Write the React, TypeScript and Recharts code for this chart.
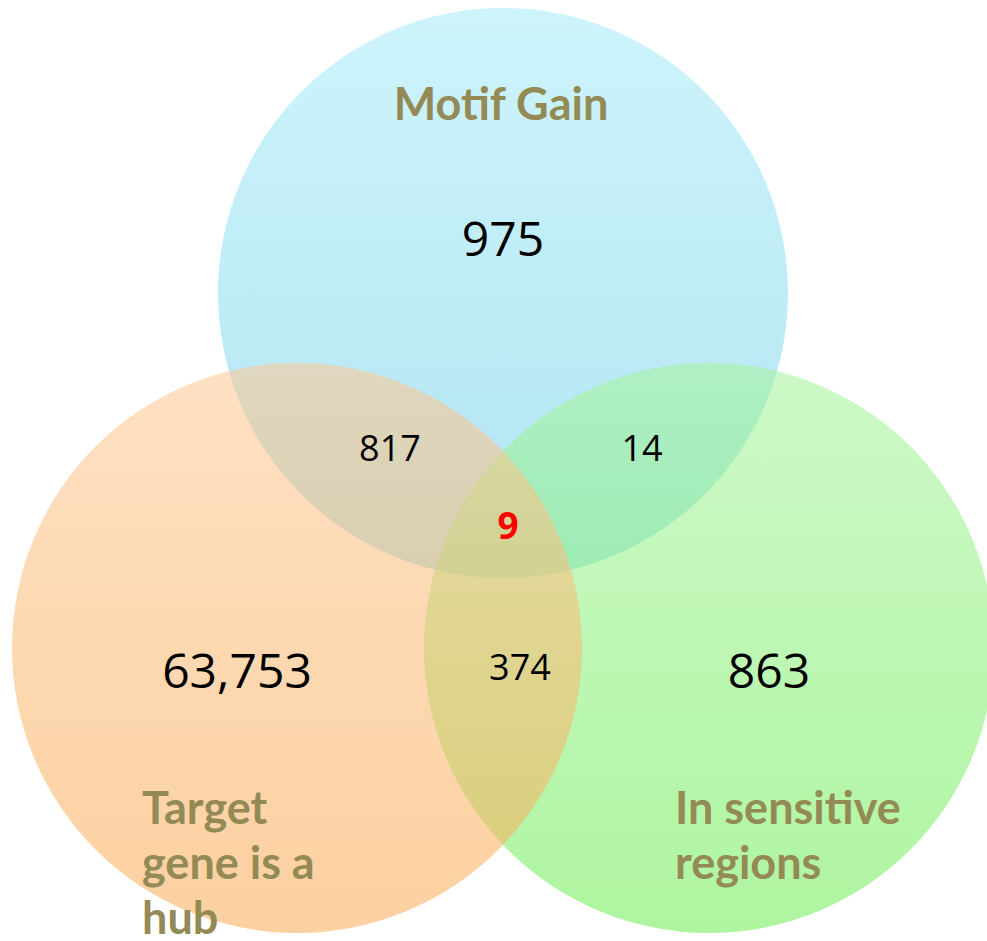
import { ComposedChart, XAxis, YAxis, ReferenceDot, Scatter } from "recharts";

// sets (order = drawing order: blue under, green, orange on top)
const setNames = ["Motif Gain", "In sensitive regions", "Target gene is a hub"];
const setCenterX = [503, 709, 297];
const setCenterY = [293, 648, 648];
const setRadius = 285;

// region counts
const regionNames = ["Motif only", "Hub only", "Sensitive only", "Motif & Hub", "Motif & Sensitive", "Hub & Sensitive", "All three"];
const regionCounts = ["975", "63,753", "863", "817", "14", "374", "9"];
const regionX = [503, 237, 769, 390, 642, 520, 508];
const regionY = [256, 688, 688, 461, 461, 680, 539];

// set titles, one entry per line
const titleLines = ["Motif Gain", "Target", "gene is a", "hub", "In sensitive", "regions"];
const titleX = [501, 142, 142, 142, 675, 675];
const titleY = [120, 824, 879, 934, 824, 879];
const titleAnchor = ["middle", "start", "start", "start", "start", "start"];

const W = 987;
const H = 941;

const gradients = [
  { id: "g-blue", top: "#a4ebf8", bottom: "#70cee8" },
  { id: "g-green", top: "#a4f49b", bottom: "#6ced52" },
  { id: "g-orange", top: "#fcc792", bottom: "#faaa52" },
];

const countData = regionCounts.map((c, i) => ({
  x: regionX[i],
  y: regionY[i],
  label: c,
  name: regionNames[i],
}));
const titleData = titleLines.map((t, i) => ({ x: titleX[i], y: titleY[i], label: t, anchor: titleAnchor[i] }));

const CountShape = (props: any) => {
  const { cx, cy, payload } = props;
  const center = payload.name === "All three";
  const small = ["Motif & Hub", "Motif & Sensitive", "Hub & Sensitive"].includes(payload.name);
  return (
    <text
      x={cx}
      y={cy}
      textAnchor="middle"
      fontFamily="'Open Sans', sans-serif"
      fontWeight={center ? 700 : 400}
      fontSize={center ? 37 : small ? 36 : 48}
      fill={center ? "#ff0000" : "#000000"}
    >
      {payload.label}
    </text>
  );
};

const TitleShape = (props: any) => {
  const { cx, cy, payload } = props;
  return (
    <text
      x={cx}
      y={cy}
      textAnchor={payload.anchor}
      fontFamily="Lato, sans-serif"
      fontWeight={700}
      fontSize={45}
      fill="#938a56"
    >
      {payload.label}
    </text>
  );
};

export default function App() {
  return (
    <div style={{ position: "absolute", left: 0, top: 0, width: W, height: H, background: "#fff" }}>
      <ComposedChart width={W} height={H} margin={{ top: 0, right: 0, bottom: 0, left: 0 }} style={{ overflow: "hidden" }}>
        <defs>
          {gradients.map((g) => (
            <linearGradient key={g.id} id={g.id} x1="0" y1="0" x2="0" y2="1">
              <stop offset="0%" stopColor={g.top} />
              <stop offset="100%" stopColor={g.bottom} />
            </linearGradient>
          ))}
        </defs>
        <XAxis type="number" dataKey="x" domain={[0, W]} hide allowDataOverflow />
        <YAxis type="number" dataKey="y" domain={[0, H]} reversed hide allowDataOverflow />
        {setNames.map((n, i) => (
          <ReferenceDot
            key={n}
            x={setCenterX[i]}
            y={setCenterY[i]}
            r={setRadius}
            fill={`url(#${gradients[i].id})`}
            fillOpacity={0.55}
            stroke="none"
            ifOverflow="visible"
          />
        ))}
        <Scatter data={countData} shape={CountShape} isAnimationActive={false} />
        <Scatter data={titleData} shape={TitleShape} isAnimationActive={false} />
      </ComposedChart>
    </div>
  );
}
